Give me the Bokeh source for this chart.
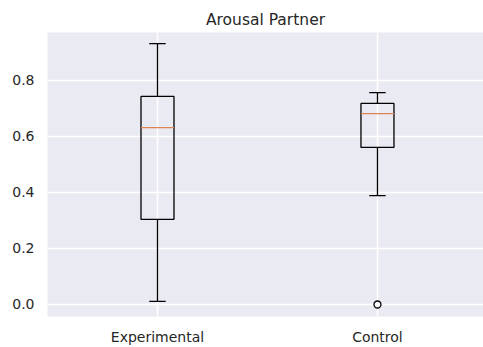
from bokeh.plotting import figure
from bokeh.models import FixedTicker, NumeralTickFormatter, Range1d
from bokeh.embed import file_html
from bokeh.resources import INLINE

# ---- data ----
groups = ["Experimental", "Control"]
positions = [1, 2]
q1 = [0.304, 0.561]
medians = [0.632, 0.682]
q3 = [0.743, 0.718]
whisker_low = [0.011, 0.389]
whisker_high = [0.932, 0.757]
outlier_group_pos = [2]
outlier_values = [0.0]
y_ticks = [0.0, 0.2, 0.4, 0.6, 0.8]

# ---- style ----
BOX_W = 0.15
CAP_W = BOX_W / 2
LINE_W = 1.3
TEXT = "#262626"
FONT = "DejaVu Sans"

p = figure(width=483, height=347, output_backend="svg", toolbar_location=None,
           x_range=Range1d(0.5, 2.482), y_range=Range1d(-0.0429, 0.9714),
           title="Arousal Partner")
p.min_border_left = 47
p.min_border_right = 0
p.min_border_top = 32
p.min_border_bottom = 31
p.outline_line_color = None
p.background_fill_color = "#EAEAF2"
p.border_fill_color = "white"

p.title.align = "center"
p.title.text_font = FONT
p.title.text_font_size = "15.5px"
p.title.text_font_style = "normal"
p.title.text_color = TEXT
p.title.standoff = 7

p.grid.grid_line_color = "white"
p.grid.grid_line_width = 1.5

for ax in (p.xaxis, p.yaxis):
    ax.axis_line_color = None
    ax.major_tick_line_color = None
    ax.minor_tick_line_color = None
    ax.major_tick_out = 0
    ax.major_tick_in = 0
    ax.major_label_text_font = FONT
    ax.major_label_text_font_size = "14px"
    ax.major_label_text_color = TEXT

p.xaxis.ticker = FixedTicker(ticks=positions)
p.xaxis.major_label_overrides = {pos: g for pos, g in zip(positions, groups)}
p.xaxis.major_label_standoff = 12
p.yaxis.ticker = FixedTicker(ticks=y_ticks)
p.yaxis.formatter = NumeralTickFormatter(format="0.0")
p.yaxis.major_label_standoff = 13

# whiskers
p.segment(x0=positions, y0=q1, x1=positions, y1=whisker_low, line_color="black", line_width=LINE_W)
p.segment(x0=positions, y0=q3, x1=positions, y1=whisker_high, line_color="black", line_width=LINE_W)
# caps
p.segment(x0=[x - CAP_W / 2 for x in positions], y0=whisker_low,
          x1=[x + CAP_W / 2 for x in positions], y1=whisker_low, line_color="black", line_width=LINE_W)
p.segment(x0=[x - CAP_W / 2 for x in positions], y0=whisker_high,
          x1=[x + CAP_W / 2 for x in positions], y1=whisker_high, line_color="black", line_width=LINE_W)
# boxes
p.quad(left=[x - BOX_W / 2 for x in positions], right=[x + BOX_W / 2 for x in positions],
       bottom=q1, top=q3, fill_color=None, line_color="black", line_width=LINE_W)
# medians
p.segment(x0=[x - BOX_W / 2 for x in positions], y0=medians,
          x1=[x + BOX_W / 2 for x in positions], y1=medians, line_color="#DD8452", line_width=LINE_W)
# outliers
p.scatter(x=outlier_group_pos, y=outlier_values, marker="circle", size=7,
          fill_color=None, line_color="black", line_width=LINE_W)

open("out.html", "w").write(file_html(p, INLINE))
